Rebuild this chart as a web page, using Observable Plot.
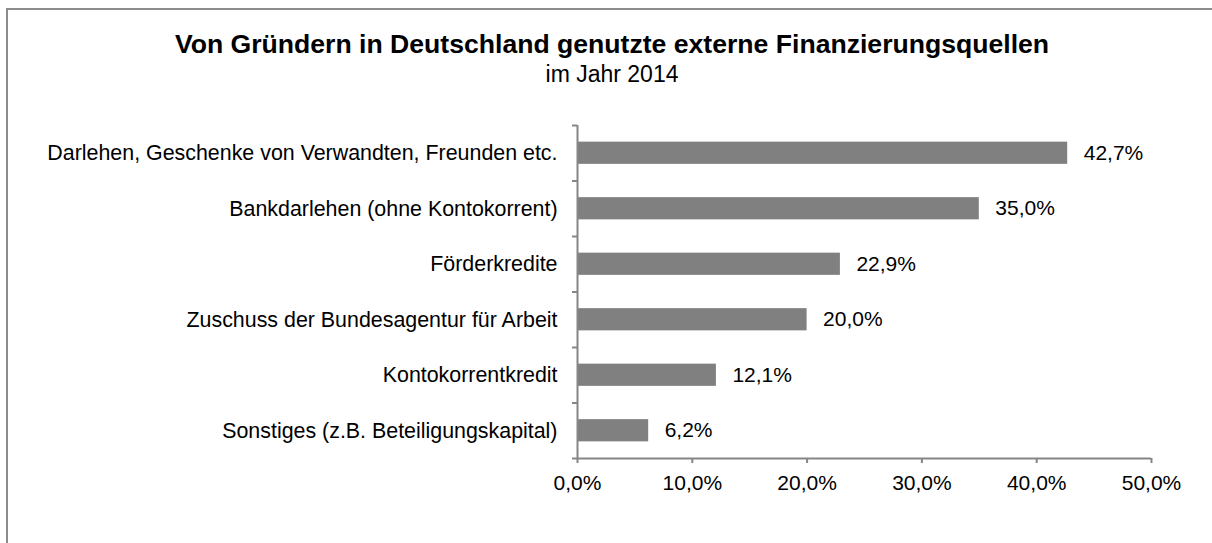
<!DOCTYPE html>
<html>
<head>
<meta charset="utf-8">
<script src="https://cdn.jsdelivr.net/npm/d3@7"></script>
<script src="https://cdn.jsdelivr.net/npm/@observablehq/plot@0.6"></script>
<style>
  html, body { margin: 0; padding: 0; background: #fff; overflow: hidden; }
  #wrap { position: relative; width: 1212px; height: 543px; overflow: hidden; font-family: "Liberation Sans", Arial, sans-serif; }
  #frame { position: absolute; left: 6px; top: 8px; width: 1400px; height: 800px; border: 2px solid #8c8c8c; box-sizing: border-box; }
  #chart { position: absolute; left: 0; top: 0; }
  .t { position: absolute; left: 12px; width: 1200px; text-align: center; color: #000; white-space: nowrap; }
  #title { top: 29px; font-size: 26.6px; font-weight: bold; line-height: 30px; }
  #subtitle { top: 61px; font-size: 23px; line-height: 26px; }
</style>
</head>
<body>
<div id="wrap">
  <div id="frame"></div>
  <div id="chart"></div>
  <div class="t" id="title">Von Gründern in Deutschland genutzte externe Finanzierungsquellen</div>
  <div class="t" id="subtitle">im Jahr 2014</div>
</div>
<script>
const categories = [
  "Darlehen, Geschenke von Verwandten, Freunden etc.",
  "Bankdarlehen (ohne Kontokorrent)",
  "Förderkredite",
  "Zuschuss der Bundesagentur für Arbeit",
  "Kontokorrentkredit",
  "Sonstiges (z.B. Beteiligungskapital)"
];
const values = [42.7, 35.0, 22.9, 20.0, 12.1, 6.2];
const xTicks = [0, 10, 20, 30, 40, 50];

const data = categories.map((c, i) => ({category: c, value: values[i], idx: i}));
const fmt = d => d.toFixed(1).replace(".", ",") + "%";
const axisColor = "#868686";
const font = "Liberation Sans, Arial, sans-serif";

const plot = Plot.plot({
  width: 1212,
  height: 543,
  marginTop: 125,
  marginBottom: 85,
  marginLeft: 577,
  marginRight: 61,
  style: {background: "none", fontFamily: font, color: "#000", overflow: "visible"},
  x: {domain: [0, 50]},
  y: {domain: [0, categories.length], reverse: true},
  marks: [
    Plot.rectX(data, {
      x1: 0, x2: "value",
      y1: d => d.idx + 0.3, y2: d => d.idx + 0.7,
      fill: "#808080"
    }),
    Plot.text(data, {
      x: "value", y: d => d.idx + 0.5, text: d => fmt(d.value),
      dx: 16, textAnchor: "start", fontSize: 21, fill: "#000"
    }),
    Plot.ruleX([0], {y1: 0, y2: categories.length, stroke: axisColor, strokeWidth: 2}),
    Plot.ruleY([categories.length], {x1: 0, x2: 50, stroke: axisColor, strokeWidth: 2}),
    Plot.axisY({
      ticks: d3.range(categories.length + 1), tickFormat: () => "",
      tickSize: 5, stroke: axisColor, strokeWidth: 2, label: null
    }),
    Plot.axisY({
      ticks: categories.map((_, i) => i + 0.5),
      tickFormat: d => categories[Math.floor(d)],
      tickSize: 0, tickPadding: 20, fontSize: 21.4, label: null
    }),
    Plot.axisX({
      ticks: xTicks, tickFormat: fmt, tickSize: 5, tickPadding: 12,
      stroke: axisColor, strokeWidth: 2, fontSize: 21, label: null
    })
  ]
});
document.getElementById("chart").appendChild(plot);
</script>
</body>
</html>
